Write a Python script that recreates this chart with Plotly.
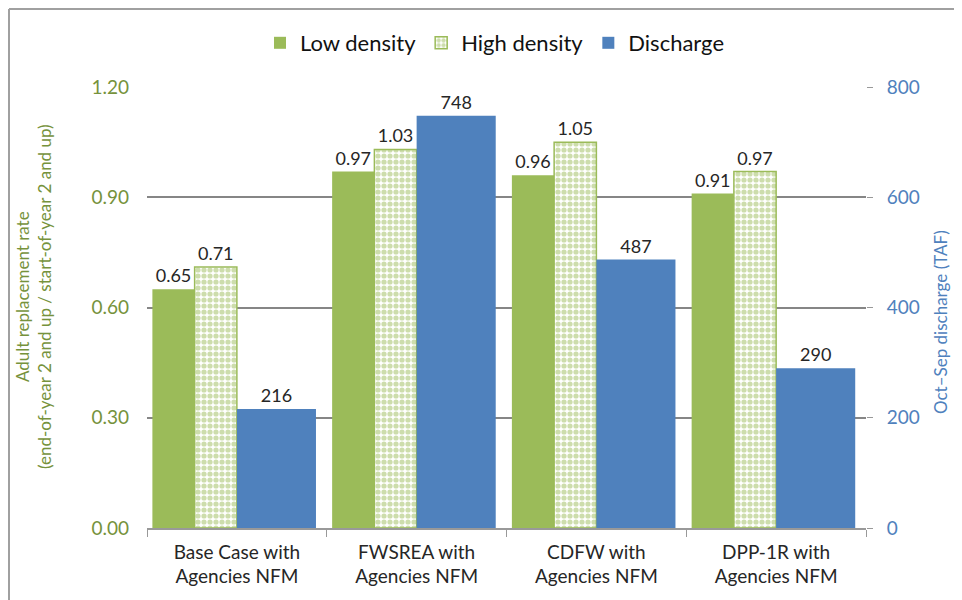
import plotly.graph_objects as go

categories = ["Base Case with<br>Agencies NFM", "FWSREA with<br>Agencies NFM",
              "CDFW with<br>Agencies NFM", "DPP-1R with<br>Agencies NFM"]
low_density = [0.65, 0.97, 0.96, 0.91]
high_density = [0.71, 1.03, 1.05, 0.97]
discharge = [216, 748, 487, 290]

GREEN = "#9BBB59"
BLUE = "#4F81BD"
FONT = "Lato, Open Sans, sans-serif"
LBL = dict(size=18, color="#262626", family=FONT)

# layout geometry (figure coordinates; page adds ~8px body offset)
L, T, PW, PH = 139, 79, 719, 441
R = 962 - L - PW
B = 600 - T - PH
BOT = T + PH


def px(xf):
    return (xf - L) / PW


def py(yf):
    return (BOT - yf) / PH


fig = go.Figure()
fig.add_trace(go.Bar(
    name="Low density", x=categories, y=low_density,
    offset=-0.47, width=0.235,
    marker=dict(color=GREEN, line=dict(width=0)),
    text=[f"{v:.2f}" for v in low_density], textposition="outside",
    textfont=LBL, cliponaxis=False,
))
fig.add_trace(go.Bar(
    name="High density", x=categories, y=high_density,
    offset=-0.235, width=0.235,
    marker=dict(color="white", line=dict(color=GREEN, width=1.5),
                pattern=dict(shape=".", fgcolor=GREEN, bgcolor="white", size=6, solidity=0.6)),
    text=[f"{v:.2f}" for v in high_density], textposition="outside",
    textfont=LBL, cliponaxis=False,
))
fig.add_trace(go.Bar(
    name="Discharge", x=categories, y=discharge, yaxis="y2",
    offset=0.0, width=0.44,
    marker=dict(color=BLUE, line=dict(width=0)),
    text=[str(v) for v in discharge], textposition="outside",
    textfont=LBL, cliponaxis=False,
))

fig.update_layout(
    width=962, height=600,
    margin=dict(l=L, r=R, t=T, b=B, autoexpand=False),
    paper_bgcolor="white", plot_bgcolor="white",
    barmode="overlay",
    font=dict(family=FONT, size=18, color="#262626"),
    legend=dict(orientation="h", x=px(487), xanchor="center", y=py(35), yanchor="middle",
                font=dict(size=22, color="#111"), traceorder="normal",
                itemwidth=30),
    xaxis=dict(
        showline=True, linecolor="#999", linewidth=1.5,
        ticks="outside", tickson="boundaries", ticklen=7, tickcolor="#999",
        tickfont=dict(size=19, color="#262626"), showgrid=False,
        ticklabelstandoff=6, automargin=False,
    ),
    yaxis=dict(
        range=[0, 1.2], dtick=0.3, tickformat=".2f",
        showgrid=True, gridcolor="#868686", gridwidth=1.5,
        zeroline=False, showline=False,
        tickfont=dict(size=19, color="#76923C"),
        ticklabelstandoff=17, automargin=False,
    ),
    yaxis2=dict(
        range=[0, 800], dtick=200, overlaying="y", side="right",
        showgrid=False, zeroline=False, showline=False,
        ticks="outside", ticklen=6, tickcolor="#999",
        tickfont=dict(size=19, color=BLUE),
        ticklabelstandoff=10, automargin=False,
    ),
    annotations=[
        dict(text="Adult replacement rate<br>(end-of-year 2 and up / start-of-year 2 and up)",
             xref="paper", yref="paper", x=px(25), y=py(289),
             xanchor="center", yanchor="middle", textangle=-90, showarrow=False,
             font=dict(size=17, color="#76923C")),
        dict(text="Oct\u2013Sep discharge (TAF)",
             xref="paper", yref="paper", x=px(932), y=py(314),
             xanchor="center", yanchor="middle", textangle=-90, showarrow=False,
             font=dict(size=17, color=BLUE)),
    ],
    shapes=[
        dict(type="line", xref="paper", yref="paper",
             x0=px(1), x1=px(1), y0=py(600), y1=py(1),
             line=dict(color="#a0a0a0", width=2)),
        dict(type="line", xref="paper", yref="paper",
             x0=px(1), x1=px(962), y0=py(1), y1=py(1),
             line=dict(color="#a0a0a0", width=2)),
    ],
)

fig.write_html("out.html")
